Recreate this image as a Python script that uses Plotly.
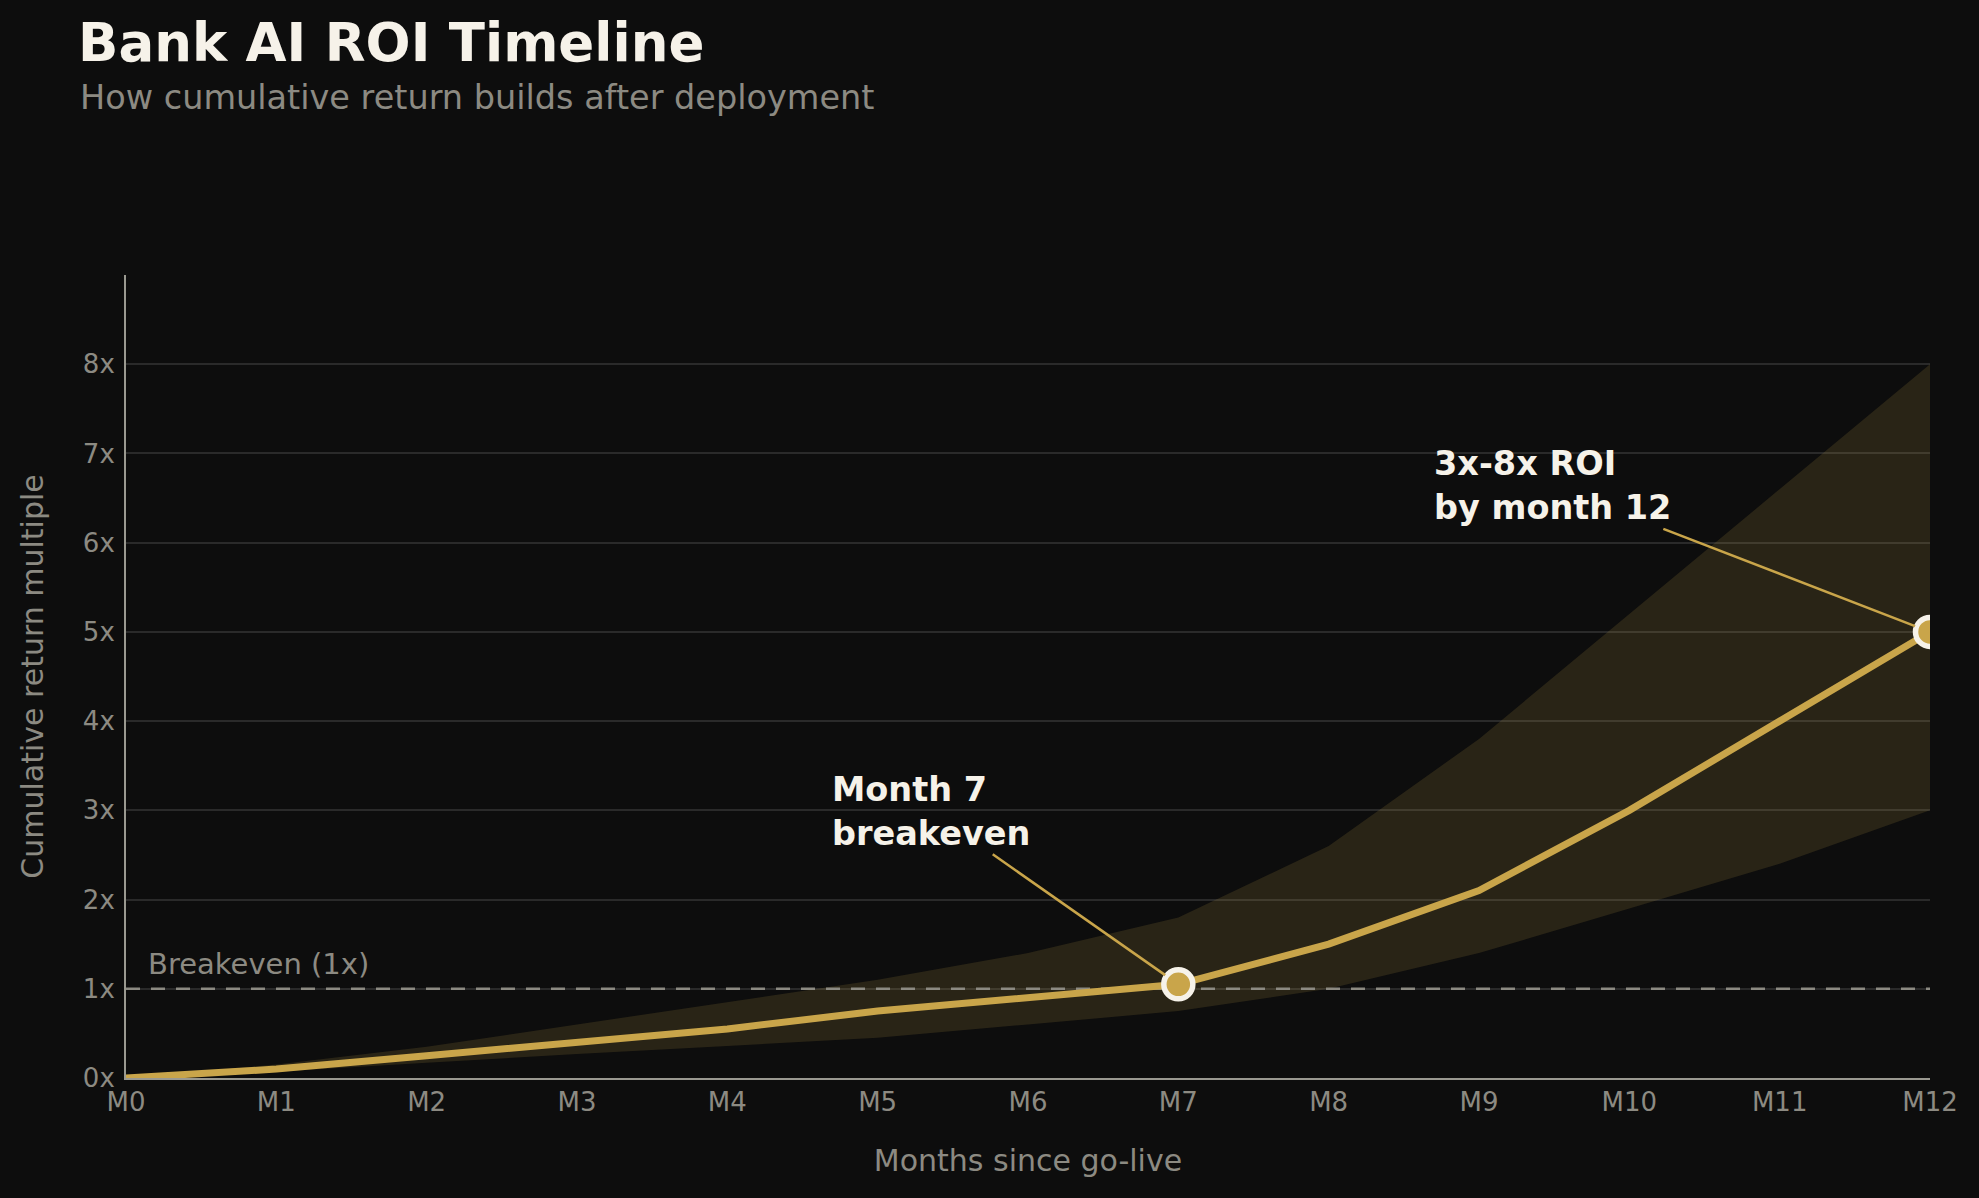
import plotly.graph_objects as go

# chart data
months = list(range(13))
month_labels = ["M" + str(m) for m in months]
roi_base = [0, 0.10, 0.25, 0.40, 0.55, 0.75, 0.90, 1.05, 1.50, 2.10, 3.00, 4.00, 5.00]
roi_high = [0, 0.15, 0.35, 0.60, 0.85, 1.10, 1.40, 1.80, 2.60, 3.80, 5.20, 6.60, 8.00]
roi_low = [0, 0.07, 0.17, 0.27, 0.36, 0.45, 0.60, 0.75, 1.00, 1.40, 1.90, 2.40, 3.00]
y_ticks = [0, 1, 2, 3, 4, 5, 6, 7, 8]
y_labels = [str(v) + "x" for v in y_ticks]
breakeven = 1
highlight = [7, 12]

BG = "#0d0d0d"
GOLD = "#c9a54a"
BAND = "rgba(201,165,74,0.15)"
GREY = "#8c8a82"
CREAM = "#f6f2e9"
FONT = "DejaVu Sans"

fig = go.Figure()

# uncertainty band
fig.add_trace(go.Scatter(x=months, y=roi_high, mode="lines",
                         line=dict(width=0), hoverinfo="skip", showlegend=False))
fig.add_trace(go.Scatter(x=months, y=roi_low, mode="lines", fill="tonexty",
                         fillcolor=BAND, line=dict(width=0),
                         hoverinfo="skip", showlegend=False))

# breakeven reference
fig.add_trace(go.Scatter(x=[months[0], months[-1]], y=[breakeven, breakeven],
                         mode="lines", hoverinfo="skip", showlegend=False,
                         line=dict(color=GREY, width=2.5, dash="14px,11px")))

fig.add_trace(go.Scatter(x=months, y=roi_base, mode="lines",
                         line=dict(color=GOLD, width=7), showlegend=False))
fig.add_trace(go.Scatter(x=[months[i] for i in highlight],
                         y=[roi_base[i] for i in highlight],
                         mode="markers",
                         marker=dict(size=29, color=GOLD, line=dict(color=CREAM, width=5.5)),
                         showlegend=False))

fig.add_annotation(x=0.13, y=breakeven, text="Breakeven (1x)", showarrow=False,
                   xanchor="left", yanchor="middle", yshift=25,
                   font=dict(family=FONT, size=29, color=GREY))

fig.add_annotation(x=months[7], y=roi_base[7], text="Month 7<br>breakeven",
                   showarrow=True, arrowhead=0, arrowwidth=2.5, arrowcolor=GOLD,
                   ax=-247, ay=-173, standoff=16, align="left",
                   font=dict(family=FONT, size=33.5, color=CREAM, weight="bold"))

fig.add_annotation(x=months[12], y=roi_base[12], text="3x-8x ROI<br>by month 12",
                   showarrow=True, arrowhead=0, arrowwidth=2.5, arrowcolor=GOLD,
                   ax=-378, ay=-146, standoff=16, align="left",
                   font=dict(family=FONT, size=33.5, color=CREAM, weight="bold"))

# subtitle
fig.add_annotation(xref="paper", yref="paper", x=-0.0266, y=1.221,
                   text="How cumulative return builds after deployment",
                   showarrow=False, xanchor="left", yanchor="middle",
                   font=dict(family=FONT, size=33.5, color=GREY))

fig.update_layout(
    width=1979, height=1198,
    paper_bgcolor=BG, plot_bgcolor=BG,
    margin=dict(l=126, r=49, t=275, b=120),
    font=dict(family=FONT, color=GREY),
    title=dict(text="Bank AI ROI Timeline", x=78 / 1979, y=1 - 42 / 1198,
               xanchor="left", yanchor="middle",
               font=dict(family=FONT, size=53, color=CREAM, weight="bold")),
    xaxis=dict(range=[0, 12], tickmode="array", tickvals=months, ticktext=month_labels,
               showgrid=False, zeroline=False, showline=True, linecolor="#9a9990",
               linewidth=2, ticks="",
               tickfont=dict(family=FONT, size=26, color=GREY),
               title=dict(text="Months since go-live", standoff=34,
                          font=dict(family=FONT, size=30, color=GREY))),
    yaxis=dict(range=[0, 9], tickmode="array", tickvals=y_ticks, ticktext=y_labels,
               showgrid=True, gridcolor="#2a2a2a", gridwidth=2, zeroline=False,
               showline=True, linecolor="#9a9990", linewidth=2,
               ticks="outside", ticklen=4, tickcolor="rgba(0,0,0,0)",
               tickfont=dict(family=FONT, size=26, color=GREY),
               title=dict(text="Cumulative return multiple", standoff=30,
                          font=dict(family=FONT, size=30, color=GREY))),
)

fig.write_html("out.html", config={"displayModeBar": False},
               post_script="document.body.style.margin='0';"
                           "document.body.style.background='#0d0d0d';")
